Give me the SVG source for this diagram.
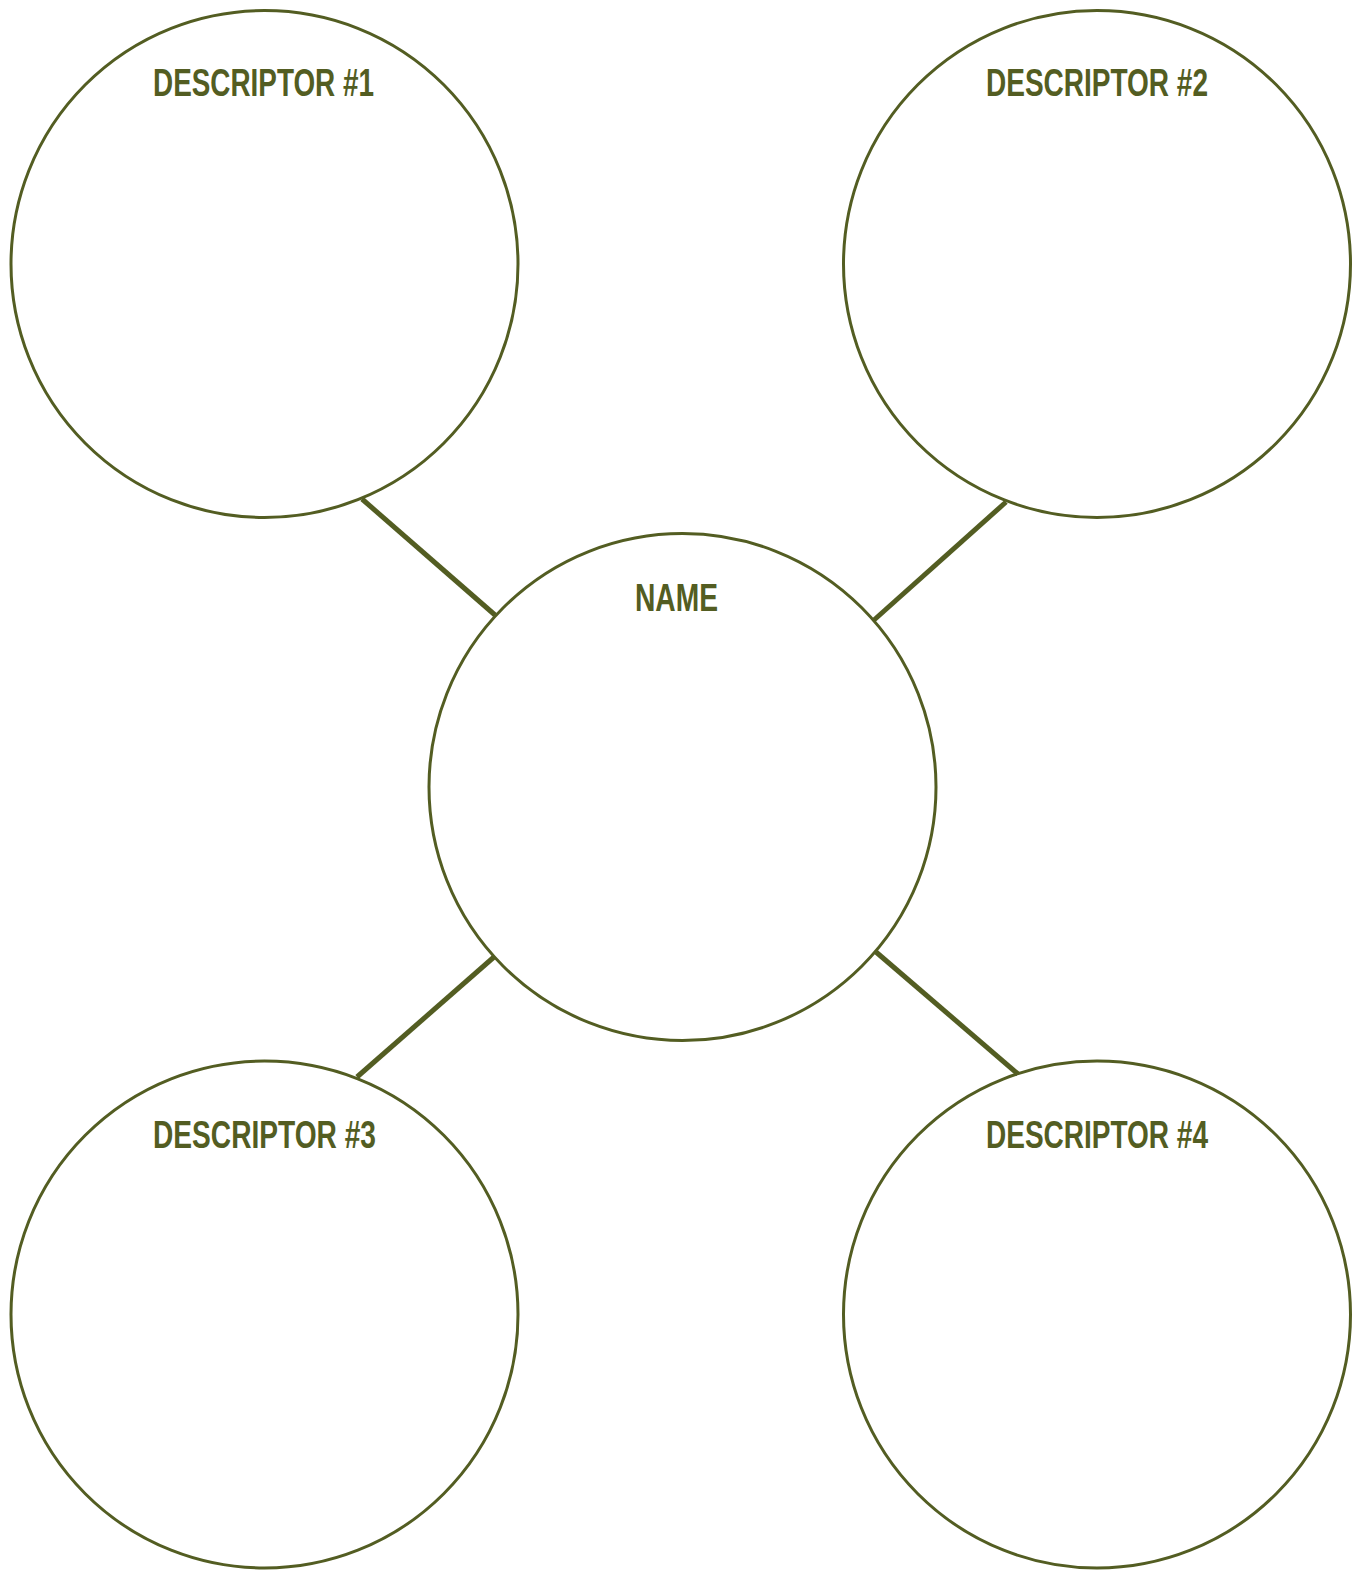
<svg xmlns="http://www.w3.org/2000/svg" width="1358" height="1570" viewBox="0 0 1358 1570">
<style>
.c{fill:none;stroke:#535d22;stroke-width:3}
.l{stroke:#535d22;stroke-width:5;stroke-linecap:butt}
.t{font-family:"Liberation Sans Narrow","Liberation Sans",Arial,sans-serif;font-weight:bold;font-size:38px;fill:#535d22}
</style>
<rect width="1358" height="1570" fill="#fff"/>
<g id="connectors">
<line class="l" x1="362" y1="499" x2="495" y2="615"/>
<line class="l" x1="1006" y1="502" x2="874" y2="620"/>
<line class="l" x1="494" y1="957" x2="357" y2="1077"/>
<line class="l" x1="876" y1="952" x2="1018" y2="1074"/>
</g>
<g id="d1"><circle class="c" cx="264.5" cy="264" r="253.5"/><text class="t" x="153" y="96" textLength="221" lengthAdjust="spacingAndGlyphs">DESCRIPTOR #1</text></g>
<g id="d2"><circle class="c" cx="1097" cy="264" r="253.5"/><text class="t" x="986" y="96" textLength="222" lengthAdjust="spacingAndGlyphs">DESCRIPTOR #2</text></g>
<g id="name"><circle class="c" cx="682.5" cy="787" r="253.5"/><text class="t" x="635" y="611" textLength="83" lengthAdjust="spacingAndGlyphs">NAME</text></g>
<g id="d3"><circle class="c" cx="264.5" cy="1314.5" r="253.5"/><text class="t" x="153" y="1148" textLength="223" lengthAdjust="spacingAndGlyphs">DESCRIPTOR #3</text></g>
<g id="d4"><circle class="c" cx="1097" cy="1314.5" r="253.5"/><text class="t" x="986" y="1148" textLength="222" lengthAdjust="spacingAndGlyphs">DESCRIPTOR #4</text></g>
</svg>
